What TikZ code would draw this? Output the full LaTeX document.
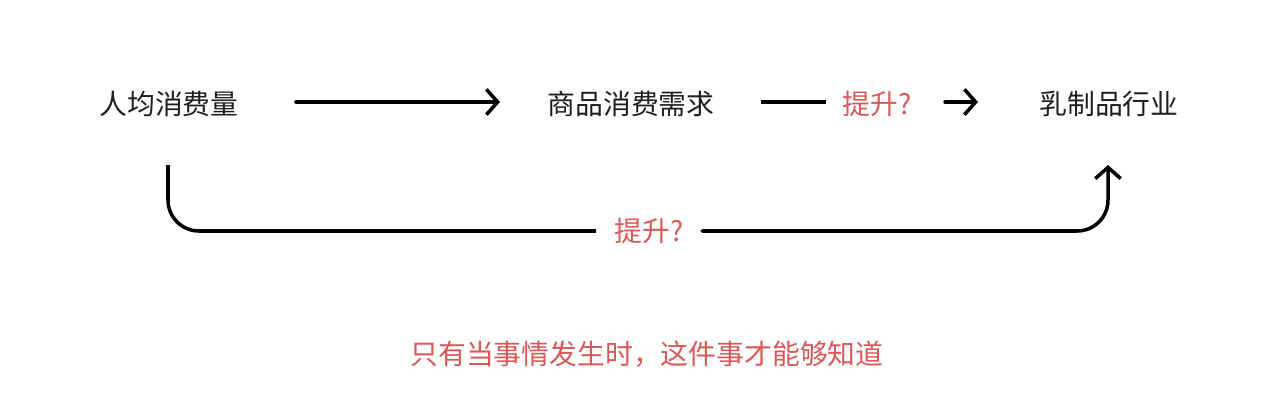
\documentclass[tikz,border=0pt]{standalone}
\usepackage{fontspec}
\setmainfont{Noto Sans CJK SC}
\usetikzlibrary{arrows.meta}
\definecolor{hintred}{RGB}{217,88,88}
\definecolor{txtdark}{RGB}{30,30,30}

\begin{document}
\begin{tikzpicture}[x=0.025cm,y=-0.025cm]
        \tikzset{myptr/.style={line width=2.5pt,line cap=round,-{Straight Barb[length=8pt,width=18pt,line width=2.5pt]}},
                 myline/.style={line width=2.5pt},
                 lbl/.style={font=\fontsize{19.8}{22}\selectfont,text=txtdark,inner sep=0pt},
                 hint/.style={font=\fontsize{19.8}{22}\selectfont,text=hintred,inner sep=0pt}}
        \useasboundingbox (0,0) rectangle (1280,420);
        \node[lbl] (P) at (169,104) {人均消费量};
        \node[lbl] (D) at (631,104) {商品消费需求};
        \node[lbl] (I) at (1109,104) {乳制品行业};
        \node[hint] (H1) at (877,104) {提升?};
        \node[hint,fill=white,inner xsep=13pt,inner ysep=4pt] (H2) at (649,231) {提升?};
        \node[hint] (N) at (647,354) {只有当事情发生时，这件事才能够知道};
        \coordinate (a1) at (296,102);
        \coordinate (a2) at (500,102);
        \coordinate (b1) at (761,102);
        \coordinate (b2) at (826,102);
        \coordinate (c1) at (945,102);
        \coordinate (c2) at (978,102);
        \coordinate (d1) at (168,165);
        \coordinate (d2) at (1108,165);
        \draw [myptr] (a1) -- (a2);
        \draw [myline] (b1) -- (b2);
        \draw [myptr] (c1) -- (c2);
        \draw [myline,rounded corners=22] (d1) |- (H2.west);
        \draw [myptr,rounded corners=22] (H2.east) -| (d2);
\end{tikzpicture}
\end{document}
